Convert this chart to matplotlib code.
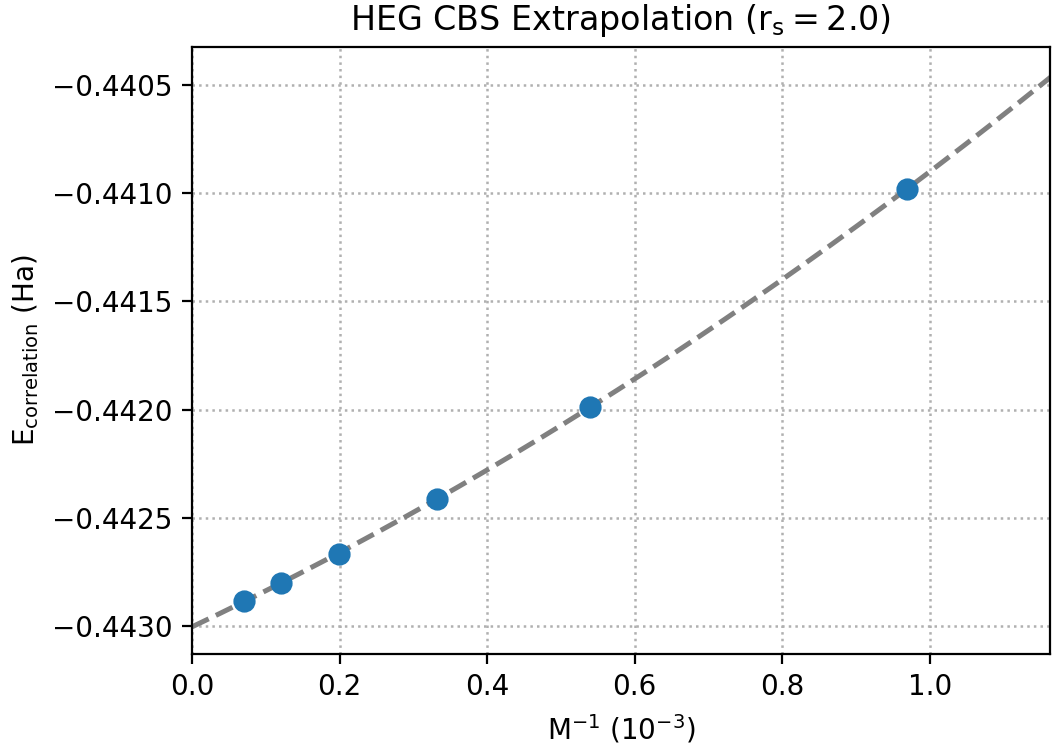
import matplotlib
matplotlib.use("Agg")
import matplotlib.pyplot as plt
import numpy as np

plt.rcParams["mathtext.default"] = "regular"

# inverse basis size (units of 1e-3) and correlation energies (Ha)
inv_m = [0.0705, 0.1206, 0.1992, 0.332, 0.539, 0.969]
e_corr = [-0.442884, -0.442801, -0.442667, -0.442413, -0.441988, -0.440981]

coef = np.polyfit(inv_m, e_corr, 2)
x_fit = np.linspace(0.0, 1.2, 300)
y_fit = np.polyval(coef, x_fit)

fig = plt.figure(figsize=(5.26, 3.73), dpi=200)
ax = fig.add_axes([0.1825, 0.1233, 0.8155, 0.8137])

ax.plot(x_fit, y_fit, "--", color="gray", lw=1.8, zorder=2)
ax.plot(inv_m, e_corr, "o", color="#1f77b4", ms=7, zorder=3)

ax.set_xlim(0.0, 1.163)
ax.set_ylim(-0.443129, -0.440324)
ax.set_yticks([-0.4430, -0.4425, -0.4420, -0.4415, -0.4410, -0.4405])
ax.yaxis.set_major_formatter(plt.FuncFormatter(lambda v, p: f"{v:.4f}".replace("-", "\u2212")))
ax.grid(True, linestyle=":", color="#b0b0b0", lw=0.9)

ax.set_title("HEG CBS Extrapolation ($r_s = 2.0$)")
ax.set_xlabel("$M^{-1}$ ($10^{-3}$)")
ax.set_ylabel("$E_{correlation}$ (Ha)")

fig.savefig("out.png", dpi=200)
